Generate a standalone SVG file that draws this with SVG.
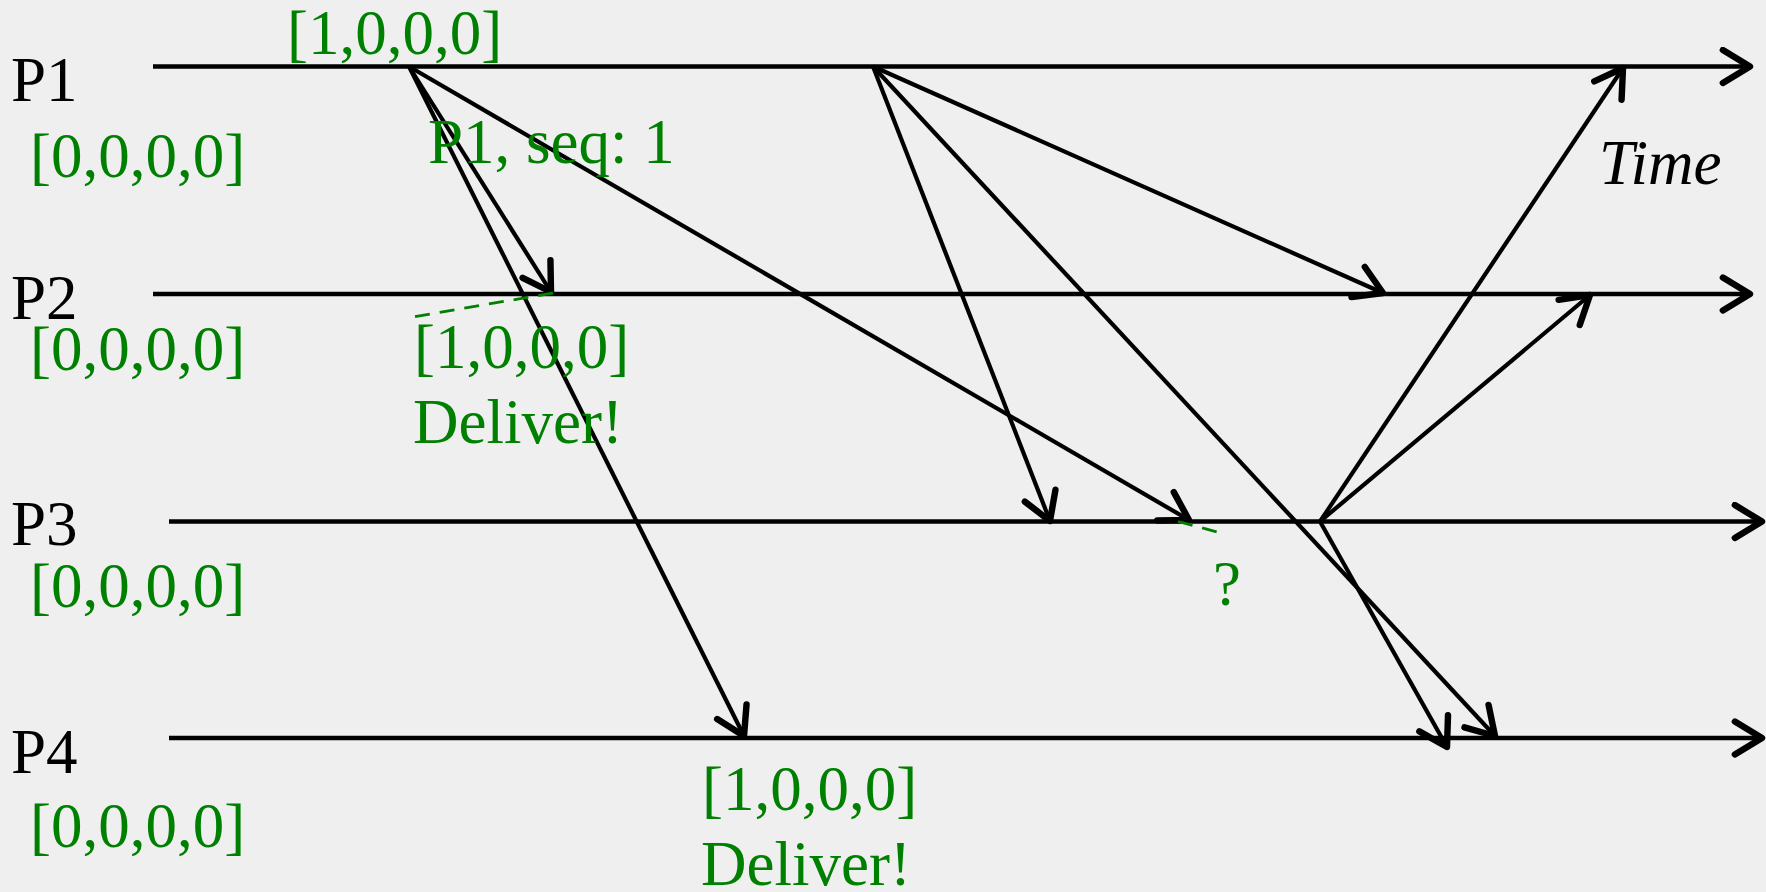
<svg xmlns="http://www.w3.org/2000/svg" width="1766" height="892" viewBox="0 0 1766 892">
<style>
.bg{fill:#efefef}
.tl{stroke:#000;stroke-width:4.5;fill:none}
.msg{stroke:#000;stroke-width:4.2;fill:none}
.lbl{font-family:"Liberation Serif","Times New Roman",serif;font-size:63px;fill:#000}
.g{font-family:"Liberation Serif","Times New Roman",serif;font-size:63px;fill:#008000}
.it{font-family:"Liberation Serif","Times New Roman",serif;font-size:63px;font-style:italic;fill:#000}
.dash{stroke:#008000;stroke-width:2.8;stroke-dasharray:15,10;fill:none}
</style>
<defs>
<marker id="arr" markerUnits="userSpaceOnUse" markerWidth="40" markerHeight="40" viewBox="-24 -14 28 28" refX="0" refY="0" orient="auto">
<path d="M-19,-11.5 L0,0 L-19,11.5" fill="none" stroke="#000" stroke-width="4.5" stroke-linecap="round" stroke-linejoin="round"/>
</marker>
</defs>
<rect class="bg" x="0" y="0" width="1766" height="892"/>
<g id="P1">
<line class="tl" x1="153" y1="66.5" x2="1750" y2="66.5" marker-end="url(#arr)"/>
<text class="lbl" x="11" y="101">P1</text>
<text class="g" x="30" y="177">[0,0,0,0]</text>
</g>
<g id="P2">
<line class="tl" x1="153" y1="294" x2="1750" y2="294" marker-end="url(#arr)"/>
<text class="lbl" x="11" y="319">P2</text>
<text class="g" x="30" y="370">[0,0,0,0]</text>
</g>
<g id="P3">
<line class="tl" x1="169" y1="521.5" x2="1762" y2="521.5" marker-end="url(#arr)"/>
<text class="lbl" x="11" y="545">P3</text>
<text class="g" x="30" y="607">[0,0,0,0]</text>
</g>
<g id="P4">
<line class="tl" x1="169" y1="738" x2="1762" y2="738" marker-end="url(#arr)"/>
<text class="lbl" x="11" y="773">P4</text>
<text class="g" x="30" y="847">[0,0,0,0]</text>
</g>
<g id="connectors">
<line class="msg" x1="409" y1="66.5" x2="551" y2="292" marker-end="url(#arr)"/>
<line class="msg" x1="409" y1="66.5" x2="744" y2="736" marker-end="url(#arr)"/>
<line class="msg" x1="409" y1="66.5" x2="1189" y2="520" marker-end="url(#arr)"/>
<line class="msg" x1="873" y1="66.5" x2="1050" y2="521" marker-end="url(#arr)"/>
<line class="msg" x1="873" y1="66.5" x2="1383" y2="293" marker-end="url(#arr)"/>
<line class="msg" x1="873" y1="66.5" x2="1495" y2="736" marker-end="url(#arr)"/>
<line class="msg" x1="1320" y1="521.5" x2="1623" y2="68" marker-end="url(#arr)"/>
<line class="msg" x1="1320" y1="521.5" x2="1590" y2="295" marker-end="url(#arr)"/>
<line class="msg" x1="1320" y1="521.5" x2="1447" y2="747" marker-end="url(#arr)"/>
<line class="dash" x1="553" y1="293" x2="413" y2="317"/>
<line class="dash" x1="1178" y1="521.5" x2="1225" y2="534"/>
</g>
<g id="labels">
<text class="g" x="287" y="54">[1,0,0,0]</text>
<text class="g" x="428" y="163">P1, seq: 1</text>
<text class="g" x="414" y="368">[1,0,0,0]</text>
<text class="g" x="413" y="443">Deliver!</text>
<text class="g" x="702" y="810">[1,0,0,0]</text>
<text class="g" x="701" y="885">Deliver!</text>
<text class="g" x="1213" y="605">?</text>
<text class="it" x="1599" y="184">Time</text>
</g>
</svg>
